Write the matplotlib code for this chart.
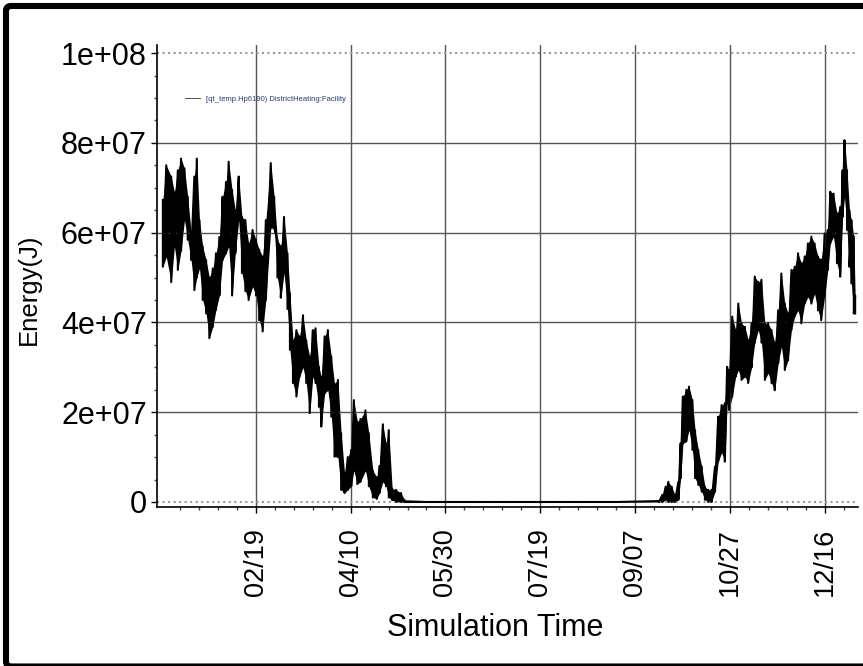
import matplotlib
matplotlib.use("Agg")
import matplotlib.pyplot as plt
import matplotlib.patches as patches
from matplotlib.ticker import FixedLocator, FuncFormatter
import numpy as np

plt.rcParams["font.family"] = ["Liberation Sans", "DejaVu Sans"]

# readings: day of year, upper / lower edge of the band (x 1e7 J)
days = [0, 1.8, 4.4, 6.1, 7.9, 9.6, 11.4, 13.1, 14.9, 16.6, 17.9, 19.3, 21.0, 22.8,
        24.5, 26.3, 28.0, 29.8, 31.5, 33.3, 34.7, 36.5, 38.2, 40.0, 41.7, 43.5, 45.2,
        47.3, 49.1, 50.8, 52.6, 54.3, 56.9, 58.7, 60.4, 62.2, 63.9, 65.7, 67.0,
        68.6, 70.4, 72.1, 73.9, 75.6, 77.4, 79.1, 80.5, 82.3, 83.5, 85.3, 87.0, 88.8,
        90.5, 92.3, 94.0, 95.8, 97.5, 99.3, 100.7, 102.5, 104.2, 106.8, 108.6, 110.7,
        112.8, 114.2, 116.0, 117.7, 119.1, 120.9, 123.0, 125.6, 127.3,
        160, 200, 240, 261.6, 263.4, 265.1, 266.5, 268.3, 270.0, 271.8, 273.0, 274.2,
        276.0, 277.4, 279.2, 280.6, 282.3, 284.1, 285.8, 287.6, 289.3, 291.1, 292.8,
        294.6, 296.3, 297.5,
        298.5, 300.2, 302.0, 303.4, 305.1, 306.9, 308.6, 310.4, 312.1, 313.9, 315.6,
        317.4, 319.1, 320.9, 322.6, 324.4, 326.1, 327.9, 329.6, 331.4, 333.1, 334.9,
        336.6, 338.4, 340.1, 341.9, 343.6, 345.4, 347.1, 348.9, 350.6, 351.9, 353.6,
        355.4, 357.1, 358.4, 359.4, 360.7, 362.0, 363.0, 364.3, 365.0]
upper = [6.73, 7.5, 7.25, 6.9, 7.39, 7.65, 7.43, 6.8, 6.0, 7.25, 7.65, 6.28, 5.69, 5.39,
         5.0, 5.2, 5.54, 5.9, 6.8, 7.13, 7.58, 6.95, 6.5, 7.25, 6.35, 6.28, 5.76,
         6.06, 5.84, 5.62, 5.47, 6.28, 7.55, 6.8, 5.84, 5.7, 6.35, 5.54, 4.65,
         3.6, 3.83, 3.69, 4.16, 3.6, 3.24, 3.83, 3.87, 3.01, 2.79, 3.69, 3.83, 3.24,
         2.64, 2.72, 1.53, 0.64, 1.0, 1.16, 2.27, 1.79, 1.85, 2.04, 1.53, 0.7,
         0.55, 0.8, 1.73, 1.3, 1.6, 0.3, 0.27, 0.2, 0.05,
         0.0, 0.0, 0.0, 0.02, 0.16, 0.34, 0.45, 0.34, 0.16, 0.45, 1.31, 2.35,
         2.5, 2.57, 2.27, 1.6, 1.16, 0.79, 0.34, 0.27, 0.27, 0.79, 1.9,
         2.16, 2.2, 3.01,
         2.94, 4.13, 3.83, 4.42, 3.98, 3.9, 3.61, 3.98, 5.02, 4.9, 4.95,
         3.98, 3.98, 3.83, 3.55, 4.27, 5.09, 4.42, 4.2, 5.17, 5.24, 5.54,
         5.32, 5.47, 5.76, 5.91, 5.76, 5.47, 5.4, 5.98, 6.06, 6.91, 6.87,
         6.43, 6.57, 7.39, 8.06, 7.39, 6.5, 6.28, 5.91, 4.6]
lower = [5.24, 5.46, 4.9, 5.69, 5.17, 5.6, 6.28, 5.84, 5.39, 4.72, 5.0, 5.2, 4.5, 4.2,
         3.65, 3.9, 4.28, 4.6, 5.39, 5.54, 5.69, 4.6, 5.54, 6.28, 5.1, 4.7, 4.5,
         4.8, 4.6, 4.05, 3.8, 4.5, 6.1, 6.1, 5.0, 4.55, 5.1, 4.3, 3.39,
         2.65, 2.35, 2.79, 3.0, 2.65, 1.98, 2.79, 2.65, 2.12, 1.68, 2.42, 2.49, 1.9,
         1.01, 1.0, 0.27, 0.2, 0.27, 0.35, 0.7, 0.4, 0.45, 0.7, 0.35, 0.1,
         0.07, 0.2, 0.45, 0.35, 0.1, 0.04, 0.0, 0.0, 0.0,
         0.0, 0.0, 0.0, 0.0, 0.0, 0.05, 0.0, 0.0, 0.0, 0.05, 0.53, 1.3,
         1.35, 1.6, 1.16, 0.53, 0.38, 0.23, 0.05, 0.0, 0.0, 0.23, 0.9,
         1.1, 0.9, 2.2,
         2.05, 2.35, 2.79, 2.94, 2.72, 2.79, 2.65, 3.0, 3.55, 3.83, 3.55,
         2.72, 2.87, 2.65, 2.49, 3.09, 3.46, 2.94, 3.16, 3.83, 4.13, 4.27,
         3.98, 4.42, 4.57, 4.42, 4.64, 4.27, 4.05, 4.57, 5.17, 5.76, 5.91,
         5.32, 5.02, 6.35, 6.8, 6.06, 5.24, 4.87, 4.2, 4.2]

tick_days = [49, 99, 149, 199, 249, 299, 349]
tick_labels = ["02/19", "04/10", "05/30", "07/19", "09/07", "10/27", "12/16"]
y_ticks = [0, 2e7, 4e7, 6e7, 8e7, 1e8]
series_name = "[qt_temp.Hp6190) DistrictHeating:Facility"

fig = plt.figure(figsize=(8.63, 6.66), dpi=100)
ax = fig.add_axes([0.1819, 0.2392, 0.8123, 0.6932])

up = np.array(upper) * 1e7
lo = np.array(lower) * 1e7
# solid band plus zigzag between the edges -> looks like the dense hourly trace
ax.fill_between(days, lo, up, color="black", lw=0)
x = np.repeat(days, 2)
y = np.column_stack([up, lo]).ravel()
ax.plot(x, y, color="black", lw=1.5, label=series_name)

ax.set_xlim(-3.1, 366.5)
ax.set_ylim(-1.05e6, 1.018e8)

ax.xaxis.set_major_locator(FixedLocator(tick_days))
ax.xaxis.set_minor_locator(FixedLocator([d for d in range(9, 366, 10) if d not in tick_days]))
ax.set_xticklabels(tick_labels, rotation=90, fontsize=19.5)
ax.yaxis.set_major_locator(FixedLocator(y_ticks))
ax.yaxis.set_minor_locator(FixedLocator(np.arange(0, 1.01e8, 5e6)))
ax.yaxis.set_major_formatter(FuncFormatter(lambda v, p: "0" if v == 0 else "%.0e" % v))
ax.tick_params(axis="y", labelsize=22, pad=3)
ax.tick_params(axis="x", pad=11)
ax.tick_params(which="major", length=4.3, width=1, color="black")
ax.tick_params(which="minor", length=2.2, width=1, color="#444444")

ax.grid(True, which="major", color="#555555", lw=1)
for v, gl in zip(y_ticks, ax.yaxis.get_gridlines()):
    if v in (0, 1e8):
        gl.set_linestyle(":")
        gl.set_color("#999999")
        gl.set_linewidth(1.5)

for s in ["top", "right"]:
    ax.spines[s].set_visible(False)
ax.spines["left"].set_linewidth(1.2)
ax.spines["bottom"].set_linewidth(1.2)

ax.set_xlabel("Simulation Time", fontsize=22)
ax.set_ylabel("Energy(J)", fontsize=18.5)
ax.xaxis.set_label_coords(0.483, -0.230)
ax.yaxis.set_label_coords(-0.165, 0.47)

leg = ax.legend(loc="upper left", bbox_to_anchor=(0.03, 0.905), frameon=False,
                fontsize=5.5, handlelength=2, handletextpad=0.7)
for t in leg.get_texts():
    t.set_color("#2a3a66")
for h in leg.get_lines():
    h.set_linewidth(0.6)
    h.set_color("#333333")

# thick black frame around the whole picture
frame = patches.FancyBboxPatch((6, -0.5), 870, 660.5, boxstyle="round,pad=0,rounding_size=5",
                               transform=None, fill=False, edgecolor="black", lw=4.4)
fig.add_artist(frame)

fig.savefig("out.png", dpi=100)
